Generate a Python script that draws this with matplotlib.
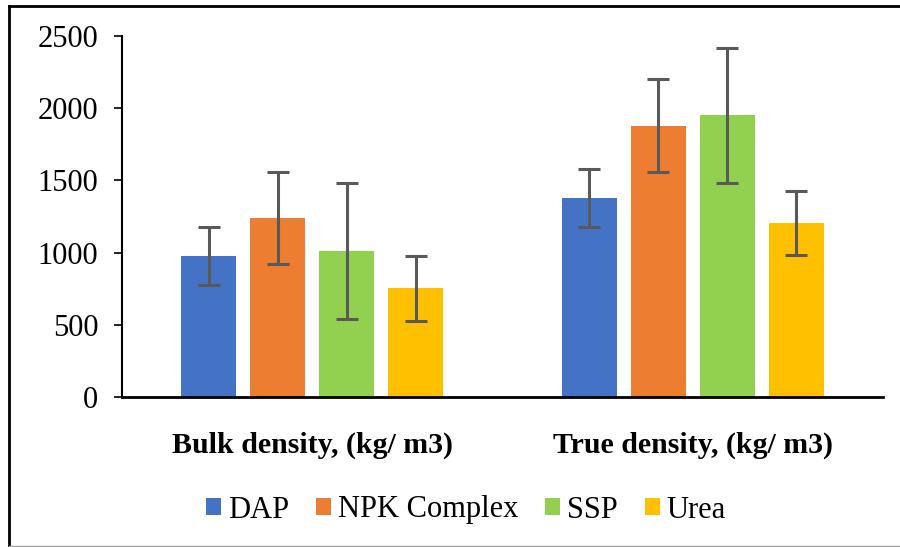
import matplotlib
matplotlib.use("Agg")
import matplotlib.pyplot as plt
import numpy as np
from matplotlib.patches import Patch
from matplotlib.lines import Line2D

categories = ["Bulk density, (kg/ m3)", "True density, (kg/ m3)"]
series = ["DAP", "NPK Complex", "SSP", "Urea"]
values = {
    "DAP": [975, 1380],
    "NPK Complex": [1238, 1880],
    "SSP": [1010, 1950],
    "Urea": [752, 1205],
}
errors = {
    "DAP": [200, 200],
    "NPK Complex": [320, 320],
    "SSP": [470, 470],
    "Urea": [225, 225],
}
colors = ["#4472C4", "#ED7D31", "#92D050", "#FFC000"]
yticks = [0, 500, 1000, 1500, 2000, 2500]

plt.rcParams['font.family'] = ['Liberation Serif', 'DejaVu Serif']

fig = plt.figure(figsize=(9, 5.47), dpi=100)
ax = fig.add_axes([122/900, 1-397/547, (883-122)/900, (397-36)/547])

x = np.arange(len(categories))
width = 0.1445
step = 0.181
for i, (s, c) in enumerate(zip(series, colors)):
    pos = x + (i - 1.5) * step
    ax.bar(pos, values[s], width=width, color=c, zorder=2)
    ax.errorbar(pos, values[s], yerr=errors[s], fmt='none', ecolor='#595959',
                elinewidth=2.2, capsize=8, capthick=2.2, zorder=3)

ax.set_xlim(-0.5, 1.5)
ax.set_ylim(0, 2500)
ax.set_yticks(yticks)
ax.set_yticklabels([str(v) for v in yticks], fontsize=22)
ax.set_xticks(x)
ax.set_xticklabels(categories, fontsize=21.5, fontweight='bold')
ax.tick_params(axis='x', length=0, pad=25)
ax.tick_params(axis='y', length=6, width=1.2, direction='out', pad=11)
for sp in ['top', 'right']:
    ax.spines[sp].set_visible(False)
ax.spines['left'].set_linewidth(1.5)
ax.spines['bottom'].set_linewidth(2)

handles = [Patch(facecolor=c, edgecolor='none') for c in colors]
fig.legend(handles, series, loc='center', bbox_to_anchor=(466/900, 1-510/547), ncol=4,
           frameon=False, fontsize=22, handlelength=0.49, handleheight=0.49,
           handletextpad=0.23, columnspacing=0.88)

# outer frame
fig.add_artist(Line2D([9/900, 9/900], [0, 1-6/547], transform=fig.transFigure, color='black', lw=2))
fig.add_artist(Line2D([9/900, 1], [1-6/547, 1-6/547], transform=fig.transFigure, color='black', lw=2))
fig.add_artist(Line2D([9/900, 1], [1.5/547, 1.5/547], transform=fig.transFigure, color='#a0a0a0', lw=1))

fig.savefig("out.png", dpi=100)
